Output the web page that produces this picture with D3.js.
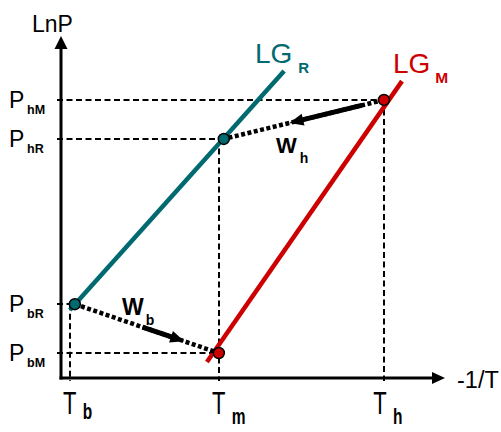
<!DOCTYPE html>
<html>
<head>
<meta charset="utf-8">
<script src="https://cdn.jsdelivr.net/npm/d3@7/dist/d3.min.js"></script>
<style>
  html, body { margin: 0; padding: 0; background: #fff; }
  svg { display: block; font-family: "Liberation Sans", Arial, sans-serif; }
</style>
</head>
<body>
<svg id="chart" width="501" height="432"></svg>
<script>
// ---- data (abstract units, 0..10 on both axes) ----
const xTickNames = ["T", "T", "T"];
const xTickSubs = ["b", "m", "h"];
const xTickValues = [0.23, 4.11, 8.41];

const yTickNames = ["P", "P", "P", "P"];
const yTickSubs = ["hM", "hR", "bR", "bM"];
const yTickValues = [8.13, 6.99, 2.16, 0.73];

// phase-equilibrium lines
const lineRx = [0.23, 5.81];
const lineRy = [1.99, 8.98];
const lineMx = [3.80, 8.88];
const lineMy = [0.47, 8.68];

// state points
const pointsRx = [0.36, 4.24];
const pointsRy = [2.16, 6.99];
const pointsMx = [4.11, 8.41];
const pointsMy = [0.73, 8.13];

// ---- drawing ----
const svg = d3.select("#chart");
const x = d3.scaleLinear().domain([0, 10]).range([61, 445]);
const y = d3.scaleLinear().domain([0, 10]).range([378, 36]);
const rx = v => Math.round(x(v));
const ry = v => Math.round(y(v));

const teal = "#006a70";
const red = "#cc0000";

// dashed guide lines (pixel-snapped, 2px wide)
const guides = svg.append("g").attr("stroke", "#000").attr("stroke-width", 2)
  .attr("stroke-dasharray", "6,3.5").attr("fill", "none");
const hGuides = [
  {v: yTickValues[0], to: pointsMx[1]},
  {v: yTickValues[1], to: pointsRx[1]},
  {v: yTickValues[2], to: pointsRx[0]},
  {v: yTickValues[3], to: pointsMx[0]}
];
hGuides.forEach(g => {
  guides.append("line").attr("x1", x(0) - 4).attr("x2", x(g.to))
    .attr("y1", ry(g.v)).attr("y2", ry(g.v));
});
const vGuides = [
  {v: xTickValues[0], from: yTickValues[2]},
  {v: xTickValues[1], from: yTickValues[1]},
  {v: xTickValues[2], from: yTickValues[0]}
];
vGuides.forEach(g => {
  guides.append("line").attr("x1", rx(g.v)).attr("x2", rx(g.v))
    .attr("y1", y(g.from)).attr("y2", y(0) + 3);
});

// axes
const axes = svg.append("g");
axes.append("line").attr("x1", x(0)).attr("x2", x(0)).attr("y1", y(0) + 1.5).attr("y2", y(10) + 10)
  .attr("stroke", "#000").attr("stroke-width", 3);
axes.append("path")
  .attr("d", `M${x(0)},${y(10)} L${x(0) - 6.5},${y(10) + 13} L${x(0) + 6.5},${y(10) + 13} Z`)
  .attr("fill", "#000");
axes.append("line").attr("x1", x(0) - 1.5).attr("x2", x(10) - 10).attr("y1", y(0)).attr("y2", y(0))
  .attr("stroke", "#000").attr("stroke-width", 3);
axes.append("path")
  .attr("d", `M${x(10)},${y(0)} L${x(10) - 13},${y(0) - 6} L${x(10) - 13},${y(0) + 6} Z`)
  .attr("fill", "#000");

// axis titles
svg.append("text").attr("x", 32).attr("y", 32).attr("font-size", 23).text("LnP");
svg.append("text").attr("x", 457).attr("y", 388).attr("font-size", 23.5).text("-1/T");

// lines
const lineGen = d3.line().x(d => x(d[0])).y(d => y(d[1]));
svg.append("path").datum(d3.zip(lineRx, lineRy)).attr("d", lineGen)
  .attr("stroke", teal).attr("stroke-width", 4.5).attr("fill", "none");
svg.append("path").datum(d3.zip(lineMx, lineMy)).attr("d", lineGen)
  .attr("stroke", red).attr("stroke-width", 4.5).attr("fill", "none");

// work arrows (dotted with solid arrow part)
function arrow(p0, p1, t0, t1) {
  const g = svg.append("g");
  const X0 = x(p0[0]), Y0 = y(p0[1]), X1 = x(p1[0]), Y1 = y(p1[1]);
  g.append("line").attr("x1", X0).attr("y1", Y0).attr("x2", X1).attr("y2", Y1)
    .attr("stroke", "#000").attr("stroke-width", 4.5).attr("stroke-dasharray", "4,2.5");
  const dx = X1 - X0, dy = Y1 - Y0, L = Math.hypot(dx, dy);
  const ux = dx / L, uy = dy / L, nx = -uy, ny = ux;
  const sx = X0 + dx * t0, sy = Y0 + dy * t0;
  const tx = X0 + dx * t1, ty = Y0 + dy * t1;
  const hl = 14, hw = 6;
  const bx = tx - ux * hl, by = ty - uy * hl;
  g.append("line").attr("x1", sx).attr("y1", sy).attr("x2", bx + ux * 2).attr("y2", by + uy * 2)
    .attr("stroke", "#000").attr("stroke-width", 5);
  g.append("path")
    .attr("d", `M${tx},${ty} L${bx + nx * hw},${by + ny * hw} L${bx - nx * hw},${by - ny * hw} Z`)
    .attr("fill", "#000");
}
arrow([pointsRx[0], pointsRy[0]], [pointsMx[0], pointsMy[0]], 0.47, 0.76);
arrow([pointsMx[1], pointsMy[1]], [pointsRx[1], pointsRy[1]], 0.14, 0.59);

// points
svg.append("g").selectAll("circle").data(d3.zip(pointsRx, pointsRy)).join("circle")
  .attr("cx", d => x(d[0])).attr("cy", d => y(d[1])).attr("r", 5.5)
  .attr("fill", teal).attr("stroke", "#000").attr("stroke-width", 1.5);
svg.append("g").selectAll("circle").data(d3.zip(pointsMx, pointsMy)).join("circle")
  .attr("cx", d => x(d[0])).attr("cy", d => y(d[1])).attr("r", 5.5)
  .attr("fill", red).attr("stroke", "#000").attr("stroke-width", 1.5);

// y tick labels
yTickValues.forEach((v, i) => {
  svg.append("text").attr("x", 9).attr("y", y(v) + 8).attr("font-size", 23).text(yTickNames[i]);
  svg.append("text").attr("x", 27).attr("y", y(v) + 14).attr("font-size", 12.5)
    .attr("font-weight", "bold").text(yTickSubs[i]);
});

// x tick labels (tall glyphs)
const subDy = [5, 10, 10];
xTickValues.forEach((v, i) => {
  const g = svg.append("g").attr("transform", `translate(${x(v) - (i === 2 ? 4 : 0)},414) scale(1,1.4)`);
  g.append("text").attr("text-anchor", "middle").attr("font-size", 22).text(xTickNames[i]);
  g.append("text").attr("x", 13).attr("y", subDy[i] / 1.4).attr("font-size", 15.5)
    .attr("font-weight", "bold").text(xTickSubs[i]);
});

// line labels
const lr = svg.append("text").attr("x", 255).attr("y", 63).attr("fill", teal).attr("font-size", 28);
lr.append("tspan").text("LG");
lr.append("tspan").attr("dx", 6).attr("dy", 10).attr("font-size", 15).attr("font-weight", "bold").text("R");
const lm = svg.append("text").attr("x", 393).attr("y", 73).attr("fill", red).attr("font-size", 28);
lm.append("tspan").text("LG");
lm.append("tspan").attr("dx", 5).attr("dy", 10).attr("font-size", 15.5).attr("font-weight", "bold").text("M");

// work labels
const wh = svg.append("text").attr("x", 276).attr("y", 153).attr("font-size", 22).attr("font-weight", "bold");
wh.append("tspan").text("W");
wh.append("tspan").attr("dx", 3).attr("dy", 10).attr("font-size", 14).text("h");
const wb = svg.append("text").attr("x", 122).attr("y", 315).attr("font-size", 23).attr("font-weight", "bold");
wb.append("tspan").text("W");
wb.append("tspan").attr("dx", 2).attr("dy", 10).attr("font-size", 14).text("b");
</script>
</body>
</html>
